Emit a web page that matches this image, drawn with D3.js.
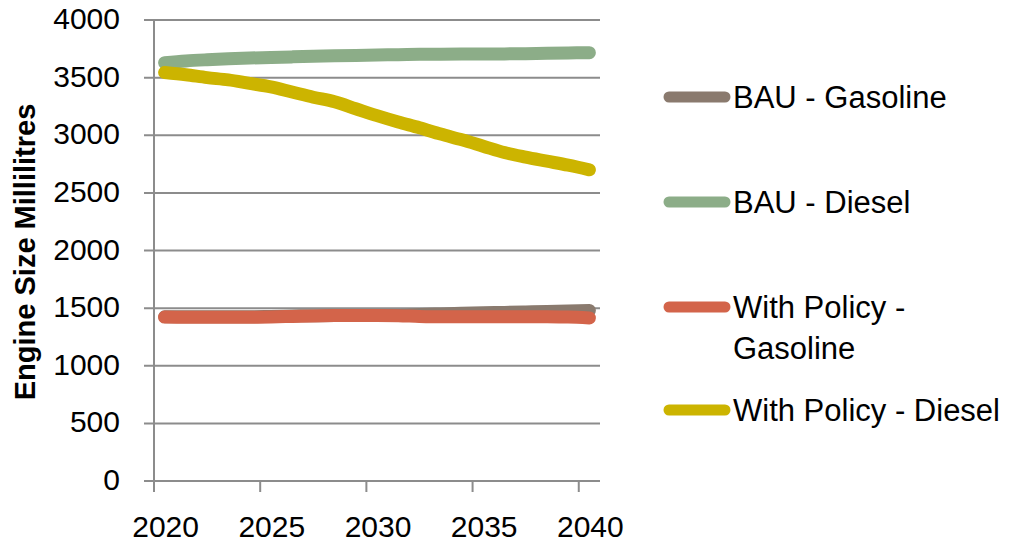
<!DOCTYPE html>
<html>
<head>
<meta charset="utf-8">
<script src="https://cdn.jsdelivr.net/npm/d3@7"></script>
<style>
  html, body { margin: 0; padding: 0; background: #fff; }
  svg { display: block; font-family: "Liberation Sans", Arial, sans-serif; }
</style>
</head>
<body>
<svg id="chart" width="1011" height="542"></svg>
<script>
// ---- data ----
const years = [2020,2021,2022,2023,2024,2025,2026,2027,2028,2029,2030,
               2031,2032,2033,2034,2035,2036,2037,2038,2039,2040];
const labelYears = [2020, 2025, 2030, 2035, 2040];
const yTickValues = [0, 500, 1000, 1500, 2000, 2500, 3000, 3500, 4000];

const bauGasoline = [1425,1425,1425,1425,1425,1428,1432,1434,1435,1436,1436,
                     1437,1445,1450,1455,1460,1463,1467,1470,1475,1480];
const bauDiesel = [3630,3645,3655,3663,3670,3675,3680,3685,3690,3693,3696,
                   3699,3702,3703,3704,3705,3706,3708,3711,3714,3716];
const policyGasoline = [1422,1420,1420,1420,1421,1423,1428,1432,1435,1436,1436,
                        1434,1428,1425,1425,1425,1425,1426,1425,1422,1415];
const policyDiesel = [3545,3525,3500,3480,3450,3420,3375,3330,3290,3230,3170,
                      3115,3065,3010,2960,2905,2850,2810,2775,2740,2700];

const seriesNames = ["BAU - Gasoline", "BAU - Diesel", "With Policy - Gasoline", "With Policy - Diesel"];
const seriesColors = ["#8a7a6e", "#8cad88", "#d3644a", "#ccb400"];
const seriesValues = [bauGasoline, bauDiesel, policyGasoline, policyDiesel];

// ---- layout ----
const svg = d3.select("#chart");
const plotLeft = 154, plotRight = 600, plotTop = 20, plotBottom = 481;

const x = d3.scaleBand().domain(years).range([plotLeft, plotRight]).padding(0);
const y = d3.scaleLinear().domain([0, 4000]).range([plotBottom, plotTop]);
const bw = x.bandwidth();
const gridColor = "#8c8c8c";

// gridlines
svg.append("g").selectAll("line").data(yTickValues).join("line")
  .attr("x1", plotLeft - 10).attr("x2", plotRight)
  .attr("y1", d => y(d)).attr("y2", d => y(d))
  .attr("stroke", gridColor).attr("stroke-width", 2);

// y axis line
svg.append("line")
  .attr("x1", plotLeft).attr("x2", plotLeft)
  .attr("y1", y(4000)).attr("y2", plotBottom + 11)
  .attr("stroke", gridColor).attr("stroke-width", 2);

// y tick labels
svg.append("g").selectAll("text").data(yTickValues).join("text")
  .attr("x", 120).attr("y", d => y(d) + 9)
  .attr("text-anchor", "end")
  .attr("font-size", 30).attr("fill", "#000")
  .text(d => d);

// x tick marks
svg.append("g").selectAll("line").data(labelYears).join("line")
  .attr("x1", d => x(d)).attr("x2", d => x(d))
  .attr("y1", plotBottom).attr("y2", plotBottom + 11)
  .attr("stroke", gridColor).attr("stroke-width", 2);

// x tick labels
svg.append("g").selectAll("text").data(labelYears).join("text")
  .attr("x", d => x(d) + bw / 2 + 1).attr("y", 537)
  .attr("text-anchor", "middle")
  .attr("font-size", 30).attr("fill", "#000")
  .text(d => d);

// y axis title
svg.append("text")
  .attr("transform", "translate(35,252) rotate(-90)")
  .attr("text-anchor", "middle")
  .attr("font-size", 29).attr("font-weight", "bold").attr("fill", "#000")
  .text("Engine Size Millilitres");

// lines
const line = d3.line()
  .x((d, i) => x(years[i]) + bw / 2)
  .y(d => y(d))
  .curve(d3.curveMonotoneX);

svg.append("g").selectAll("path").data(seriesValues).join("path")
  .attr("d", d => line(d))
  .attr("fill", "none")
  .attr("stroke", (d, i) => seriesColors[i])
  .attr("stroke-width", 13)
  .attr("stroke-linecap", "round")
  .attr("stroke-linejoin", "round");

// legend
const legendRows = [
  { y: 97, lines: ["BAU - Gasoline"] },
  { y: 202, lines: ["BAU - Diesel"] },
  { y: 307, lines: ["With Policy -", "Gasoline"] },
  { y: 410, lines: ["With Policy - Diesel"] }
];
const lg = svg.append("g");
legendRows.forEach((r, i) => {
  lg.append("line")
    .attr("x1", 669).attr("x2", 725)
    .attr("y1", r.y).attr("y2", r.y)
    .attr("stroke", seriesColors[i])
    .attr("stroke-width", 11)
    .attr("stroke-linecap", "round");
  r.lines.forEach((t, j) => {
    lg.append("text")
      .attr("x", 733).attr("y", r.y + 11 + j * 41)
      .attr("font-size", 31).attr("fill", "#000")
      .text(t);
  });
});
</script>
</body>
</html>
